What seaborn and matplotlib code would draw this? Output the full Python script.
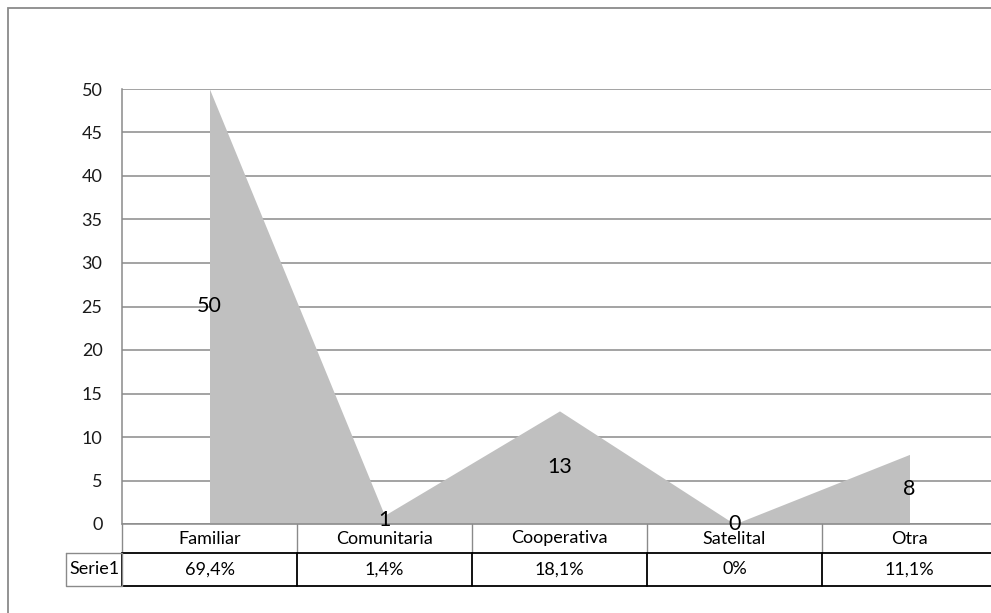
import matplotlib
matplotlib.use("Agg")
import matplotlib.pyplot as plt
from matplotlib.patches import Rectangle
import matplotlib.transforms as mtransforms
import seaborn as sns
import pandas as pd

# Data
categories = ["Familiar", "Comunitaria", "Cooperativa", "Satelital", "Otra"]
values = [50, 1, 13, 0, 8]
percentages = ["69,4%", "1,4%", "18,1%", "0%", "11,1%"]
series_name = "Serie1"
y_ticks = [0, 5, 10, 15, 20, 25, 30, 35, 40, 45, 50]

sns.set_theme(style="white")
FONT = ["Lato", "DejaVu Sans"]
plt.rcParams["font.family"] = FONT

df = pd.DataFrame({"pos": range(len(categories)), "value": values, "cat": categories})

W, H = 991, 613
fig = plt.figure(figsize=(W / 100, H / 100), dpi=100)
fig.patch.set_facecolor("white")

# plot area in pixel terms
left_px, right_px, top_px, bottom_px = 122, 997, 89, 524
ax = fig.add_axes([left_px / W, 1 - bottom_px / H,
                   (right_px - left_px) / W, (bottom_px - top_px) / H])

GRID = "#8a8a8a"
for t in y_ticks:
    ax.axhline(t, color=GRID, lw=1.1, zorder=0)

sns.lineplot(data=df, x="pos", y="value", ax=ax, color="#c0c0c0", lw=0, zorder=2)
ax.fill_between(df["pos"], 0, df["value"], color="#c0c0c0", lw=0, zorder=2)

ax.set_xlim(-0.5, len(categories) - 0.5)
ax.set_ylim(0, 50)
ax.set_yticks(y_ticks)
ax.set_yticklabels([str(t) for t in y_ticks], fontsize=13, color="#1a1a1a")
ax.tick_params(axis="y", length=0, pad=14)
ax.set_xticks([])
ax.set_xlabel("")
ax.set_ylabel("")
for s in ["top", "right", "bottom"]:
    ax.spines[s].set_visible(False)
ax.spines["left"].set_color(GRID)
ax.spines["left"].set_linewidth(1.1)

# value labels at half height of each point
for i, v in enumerate(values):
    ax.text(i, v / 2, str(v), ha="center", va="center", fontsize=15.5, color="black", zorder=5)

# data table below the plot
axh = bottom_px - top_px
def fy(px):
    return -px / axh

trans = mtransforms.blended_transform_factory(ax.transData, ax.transAxes)
n = len(categories)
hdr_bot = fy(29)
row_bot = fy(62)

# header row (grey borders)
for b in [i - 0.5 for i in range(n)]:
    ax.plot([b, b], [0, hdr_bot], color=GRID, lw=1.0, transform=trans, clip_on=False)
ax.plot([-0.5, n - 0.5], [0, 0], color=GRID, lw=1.1, transform=trans, clip_on=False)

# data row (black borders)
for b in [i - 0.5 for i in range(n)]:
    ax.plot([b, b], [hdr_bot, row_bot], color="black", lw=1.3, transform=trans, clip_on=False)
ax.plot([-0.5, n - 0.5], [hdr_bot, hdr_bot], color="black", lw=1.3, transform=trans, clip_on=False)
ax.plot([-0.5, n - 0.5], [row_bot, row_bot], color="black", lw=1.3, transform=trans, clip_on=False)

# series name cell
name_left = -0.5 - 56 / 175
ax.plot([name_left, -0.5, -0.5, name_left, name_left],
        [hdr_bot, hdr_bot, row_bot, row_bot, hdr_bot],
        color=GRID, lw=1.0, transform=trans, clip_on=False)
ax.text((name_left - 0.5) / 2, (hdr_bot + row_bot) / 2, series_name, ha="center", va="center",
        fontsize=13, color="black", transform=trans)

for i, (c, p) in enumerate(zip(categories, percentages)):
    ax.text(i, hdr_bot / 2, c, ha="center", va="center", fontsize=13, color="black", transform=trans)
    ax.text(i, (hdr_bot + row_bot) / 2, p, ha="center", va="center", fontsize=13,
            color="black", transform=trans)

# chart border
fig.patches.append(Rectangle((8 / W, -0.1), 1.2, 1 - 8 / H + 0.1, transform=fig.transFigure,
                             fill=False, edgecolor="#8a8a8a", lw=1.3, zorder=0))

fig.savefig("out.png", dpi=100, facecolor="white")
